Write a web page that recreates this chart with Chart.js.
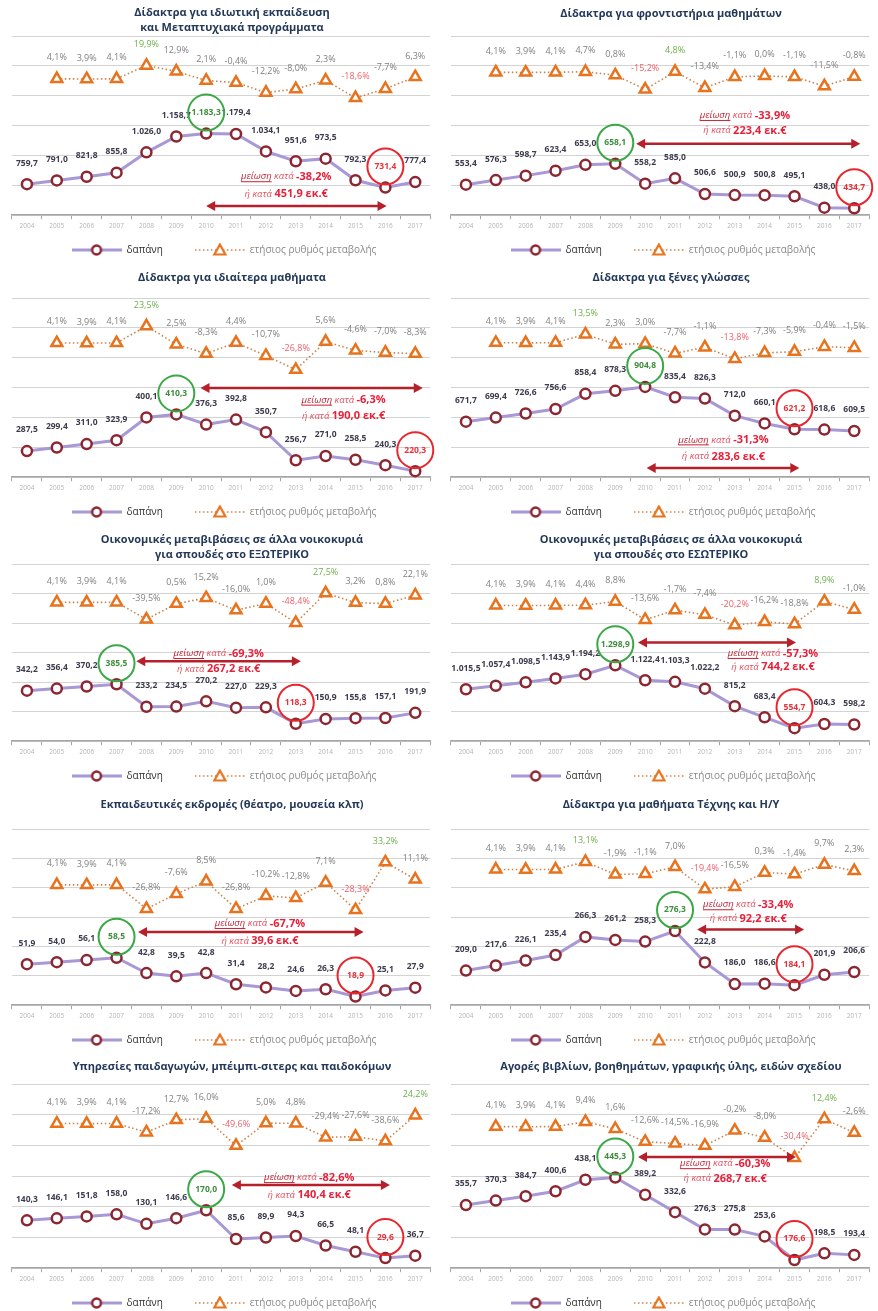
<!DOCTYPE html>
<html>
<head>
<meta charset="utf-8">
<script src="https://cdn.jsdelivr.net/npm/chart.js@4.4.0/dist/chart.umd.min.js"></script>
<style>
  body { margin: 0; background: #fff; }
  #wrap { position: relative; width: 878px; height: 1311px; overflow: hidden; }
  .panel { position: absolute; width: 439px; height: 268px; }
</style>
</head>
<body>
<div id="wrap"></div>
<script>
const years = ["2004", "2005", "2006", "2007", "2008", "2009", "2010", "2011", "2012", "2013", "2014", "2015", "2016", "2017"];

// 1. private education & postgraduate
const privateSpend = [759.7, 791.0, 821.8, 855.8, 1026.0, 1158.7, 1183.3, 1179.4, 1034.1, 951.6, 973.5, 792.3, 731.4, 777.4];
const privateRate = [null, 4.1, 3.9, 4.1, 19.9, 12.9, 2.1, -0.4, -12.2, -8.0, 2.3, -18.6, -7.7, 6.3];
// 2. tutoring schools
const tutorSpend = [553.4, 576.3, 598.7, 623.4, 653.0, 658.1, 558.2, 585.0, 506.6, 500.9, 500.8, 495.1, 438.0, 434.7];
const tutorRate = [null, 4.1, 3.9, 4.1, 4.7, 0.8, -15.2, 4.8, -13.4, -1.1, 0.0, -1.1, -11.5, -0.8];
// 3. private lessons
const lessonSpend = [287.5, 299.4, 311.0, 323.9, 400.1, 410.3, 376.3, 392.8, 350.7, 256.7, 271.0, 258.5, 240.3, 220.3];
const lessonRate = [null, 4.1, 3.9, 4.1, 23.5, 2.5, -8.3, 4.4, -10.7, -26.8, 5.6, -4.6, -7.0, -8.3];
// 4. foreign languages
const langSpend = [671.7, 699.4, 726.6, 756.6, 858.4, 878.3, 904.8, 835.4, 826.3, 712.0, 660.1, 621.2, 618.6, 609.5];
const langRate = [null, 4.1, 3.9, 4.1, 13.5, 2.3, 3.0, -7.7, -1.1, -13.8, -7.3, -5.9, -0.4, -1.5];
// 5. transfers for studies abroad
const abroadSpend = [342.2, 356.4, 370.2, 385.5, 233.2, 234.5, 270.2, 227.0, 229.3, 118.3, 150.9, 155.8, 157.1, 191.9];
const abroadRate = [null, 4.1, 3.9, 4.1, -39.5, 0.5, 15.2, -16.0, 1.0, -48.4, 27.5, 3.2, 0.8, 22.1];
// 6. transfers for studies at home
const homeSpend = [1015.5, 1057.4, 1098.5, 1143.9, 1194.2, 1298.9, 1122.4, 1103.3, 1022.2, 815.2, 683.4, 554.7, 604.3, 598.2];
const homeRate = [null, 4.1, 3.9, 4.1, 4.4, 8.8, -13.6, -1.7, -7.4, -20.2, -16.2, -18.8, 8.9, -1.0];
// 7. school trips
const tripSpend = [51.9, 54.0, 56.1, 58.5, 42.8, 39.5, 42.8, 31.4, 28.2, 24.6, 26.3, 18.9, 25.1, 27.9];
const tripRate = [null, 4.1, 3.9, 4.1, -26.8, -7.6, 8.5, -26.8, -10.2, -12.8, 7.1, -28.3, 33.2, 11.1];
// 8. art & computer lessons
const artSpend = [209.0, 217.6, 226.1, 235.4, 266.3, 261.2, 258.3, 276.3, 222.8, 186.0, 186.6, 184.1, 201.9, 206.6];
const artRate = [null, 4.1, 3.9, 4.1, 13.1, -1.9, -1.1, 7.0, -19.4, -16.5, 0.3, -1.4, 9.7, 2.3];
// 9. childcare
const careSpend = [140.3, 146.1, 151.8, 158.0, 130.1, 146.6, 170.0, 85.6, 89.9, 94.3, 66.5, 48.1, 29.6, 36.7];
const careRate = [null, 4.1, 3.9, 4.1, -17.2, 12.7, 16.0, -49.6, 5.0, 4.8, -29.4, -27.6, -38.6, 24.2];
// 10. books & stationery
const bookSpend = [355.7, 370.3, 384.7, 400.6, 438.1, 445.3, 389.2, 332.6, 276.3, 275.8, 253.6, 176.6, 198.5, 193.4];
const bookRate = [null, 4.1, 3.9, 4.1, 9.4, 1.6, -12.6, -14.5, -16.9, -0.2, -8.0, -30.4, 12.4, -2.6];

const panels = [
  { title: ["Δίδακτρα για ιδιωτική εκπαίδευση", "και Μεταπτυχιακά προγράμματα"], spend: privateSpend, rate: privateRate,
    ymin: 500, ymax: 2000, rmin: -158, rmax: 55, hi: 6, lo: 12, drop: "-38,2%", amount: "451,9",
    arrow: [6.0, 12.04, 577], note: [8.68, 822, 679], tY: 13 },
  { title: ["Δίδακτρα για φροντιστήρια μαθημάτων"], spend: tutorSpend, rate: tutorRate,
    ymin: 400, ymax: 1300, rmin: -157, rmax: 45, hi: 5, lo: 13, drop: "-33,9%", amount: "223,4",
    arrow: [5.7, 13.2, 759], note: [9.34, 901, 824], tY: 14 },
  { title: ["Δίδακτρα για ιδιαίτερα μαθήματα"], spend: lessonSpend, rate: lessonRate,
    ymin: 200, ymax: 800, rmin: -151, rmax: 56, hi: 5, lo: 13, drop: "-6,3%", amount: "190,0",
    arrow: [5.81, 13.25, 499], note: [10.6, 458, 405], tY: 16 },
  { title: ["Δίδακτρα για ξένες γλώσσες"], spend: langSpend, rate: langRate,
    ymin: 300, ymax: 1500, rmin: -146, rmax: 54, hi: 6, lo: 11, drop: "-31,3%", amount: "283,6",
    arrow: [6.05, 11.16, 361], note: [8.62, 550, 437], tY: 16 },
  { title: ["Οικονομικές μεταβιβάσεις σε άλλα νοικοκυριά", "για σπουδές στο ΕΞΩΤΕΡΙΚΟ"], spend: abroadSpend, rate: abroadRate,
    ymin: 0, ymax: 1200, rmin: -351, rmax: 102, hi: 3, lo: 9, drop: "-69,3%", amount: "267,2",
    arrow: [3.66, 9.17, 541], note: [6.42, 594, 490], tY: 14 },
  { title: ["Οικονομικές μεταβιβάσεις σε άλλα νοικοκυριά", "για σπουδές στο ΕΣΩΤΕΡΙΚΟ"], spend: homeSpend, rate: homeRate,
    ymin: 400, ymax: 2500, rmin: -163, rmax: 55, hi: 5, lo: 11, drop: "-57,3%", amount: "744,2",
    arrow: [5.76, 11.05, 1569], note: [10.28, 1440, 1278], tY: 14 },
  { title: ["Εκπαιδευτικές εκδρομές (θέατρο, μουσεία κλπ)"], spend: tripSpend, rate: tripRate,
    ymin: 10, ymax: 190, rmin: -151, rmax: 76, hi: 3, lo: 11, drop: "-67,7%", amount: "39,6",
    arrow: [3.72, 11.27, 84.9], note: [7.8, 93.5, 75.4], tY: 15 },
  { title: ["Δίδακτρα για μαθήματα Τέχνης και Η/Υ"], spend: artSpend, rate: artRate,
    ymin: 150, ymax: 450, rmin: -157, rmax: 52, hi: 7, lo: 11, drop: "-33,4%", amount: "92,2",
    arrow: [7.74, 11.32, 278.8], note: [9.45, 321, 297.8], tY: 15 },
  { title: ["Υπηρεσίες παιδαγωγών, μπέιμπι-σιτερς και παιδοκόμων"], spend: careSpend, rate: careRate,
    ymin: 0, ymax: 540, rmin: -347, rmax: 100, hi: 6, lo: 12, drop: "-82,6%", amount: "140,4",
    arrow: [6.86, 12.15, 243.8], note: [9.45, 265.6, 214], tY: 14 },
  { title: ["Αγορές βιβλίων, βοηθημάτων, γραφικής ύλης, ειδών σχεδίου"], spend: bookSpend, rate: bookRate,
    ymin: 150, ymax: 750, rmin: -152, rmax: 51, hi: 5, lo: 11, drop: "-60,3%", amount: "268,7",
    arrow: [5.76, 11.05, 512], note: [8.68, 490.5, 441.9], tY: 14 }
];

const rowTop = [0, 262, 526, 790, 1053];
const padTop = [36, 36, 38, 39, 31];

const FONT = '"Open Sans", "Noto Sans", sans-serif';
const purple = "#A898D6";
const darkRed = "#8C2630";
const orange = "#E8731E";

const fmtSpend = (v) => {
  const s = v.toFixed(1).split(".");
  return s[0].replace(/\B(?=(\d{3})+(?!\d))/g, ".") + "," + s[1];
};
const fmtRate = (v) => v.toFixed(1).replace(".", ",") + "%";

// little pictures for the legend (line + marker)
function legendImg(kind) {
  const c = document.createElement("canvas");
  c.width = 50; c.height = 14;
  const g = c.getContext("2d");
  if (kind === "spend") {
    g.strokeStyle = purple; g.lineWidth = 3;
    g.beginPath(); g.moveTo(0, 7); g.lineTo(50, 7); g.stroke();
    g.fillStyle = "#fff"; g.strokeStyle = darkRed; g.lineWidth = 2.5;
    g.beginPath(); g.arc(25, 7, 4.4, 0, Math.PI * 2); g.fill(); g.stroke();
  } else {
    g.strokeStyle = "#C9834A"; g.lineWidth = 1.6; g.setLineDash([1.5, 2.5]);
    g.beginPath(); g.moveTo(0, 7); g.lineTo(50, 7); g.stroke();
    g.setLineDash([]);
    g.fillStyle = "#fff"; g.strokeStyle = orange; g.lineWidth = 2.2;
    g.beginPath(); g.moveTo(25, 1.5); g.lineTo(30.5, 11.5); g.lineTo(19.5, 11.5); g.closePath(); g.fill(); g.stroke();
  }
  return c;
}
const spendImg = legendImg("spend");
const rateImg = legendImg("rate");

function drawParts(ctx, parts, cx, y) {
  let total = 0;
  parts.forEach((p) => { ctx.font = p.f; p.w = ctx.measureText(p.t).width; total += p.w; });
  let x = cx - total / 2;
  ctx.textAlign = "left";
  ctx.textBaseline = "middle";
  parts.forEach((p) => {
    ctx.font = p.f; ctx.fillStyle = p.c;
    ctx.fillText(p.t, x, y);
    if (p.u) {
      ctx.strokeStyle = p.c; ctx.lineWidth = 1;
      ctx.beginPath(); ctx.moveTo(x, y + 5); ctx.lineTo(x + p.w, y + 5); ctx.stroke();
    }
    x += p.w;
  });
}

function makeDecor(p) {
  return {
    id: "decor",
    afterDatasetsDraw(chart) {
      const ctx = chart.ctx;
      const xs = chart.scales.x, ys = chart.scales.y;
      ctx.save();
      // title
      ctx.fillStyle = "#24395A";
      ctx.font = "bold 11px " + FONT;
      ctx.textAlign = "center";
      ctx.textBaseline = "middle";
      p.title.forEach((t, k) => ctx.fillText(t, 232, p.tY + k * 15));

      // value labels
      const spendMeta = chart.getDatasetMeta(0);
      const rateMeta = chart.getDatasetMeta(1);
      const rv = p.rate.filter((v) => v !== null);
      const rMax = Math.max(...rv), rMin = Math.min(...rv);
      rateMeta.data.forEach((pt, i) => {
        const v = p.rate[i];
        if (v === null) return;
        ctx.font = "9px " + FONT;
        ctx.fillStyle = v === rMax ? "#6DB04A" : v === rMin ? "#F0606A" : "#808080";
        ctx.fillText(fmtRate(v), pt.x, pt.y - 21);
      });
      spendMeta.data.forEach((pt, i) => {
        ctx.font = "bold 8.5px " + FONT;
        ctx.fillStyle = i === p.hi ? "#3E8E3E" : i === p.lo ? "#E8303A" : "#3C3C4E";
        ctx.fillText(fmtSpend(p.spend[i]), pt.x, pt.y - 21);
      });

      // circles round the highest and lowest values
      [[p.hi, "#39A845"], [p.lo, "#E8262E"]].forEach(([i, col]) => {
        const pt = spendMeta.data[i];
        ctx.strokeStyle = col; ctx.lineWidth = 2;
        ctx.beginPath(); ctx.arc(pt.x, pt.y - 21, 18, 0, Math.PI * 2); ctx.stroke();
      });

      // double arrow
      const x1 = xs.getPixelForValue(p.arrow[0]);
      const x2 = xs.getPixelForValue(p.arrow[1]);
      const ay = ys.getPixelForValue(p.arrow[2]);
      const h = 9, w = 5;
      ctx.strokeStyle = "#B5202A"; ctx.fillStyle = "#B5202A"; ctx.lineWidth = 2.5;
      ctx.beginPath(); ctx.moveTo(x1 + h - 1, ay); ctx.lineTo(x2 - h + 1, ay); ctx.stroke();
      ctx.beginPath(); ctx.moveTo(x1, ay); ctx.lineTo(x1 + h, ay - w); ctx.lineTo(x1 + h, ay + w); ctx.closePath(); ctx.fill();
      ctx.beginPath(); ctx.moveTo(x2, ay); ctx.lineTo(x2 - h, ay - w); ctx.lineTo(x2 - h, ay + w); ctx.closePath(); ctx.fill();

      // decrease notes
      const tx = xs.getPixelForValue(p.note[0]);
      drawParts(ctx, [
        { t: "μείωση", f: "italic 9.5px " + FONT, c: "#C42032", u: true },
        { t: " κατά ", f: "italic 9.5px " + FONT, c: "#E8505F" },
        { t: p.drop, f: "bold 11px " + FONT, c: "#E8213A" }
      ], tx, ys.getPixelForValue(p.note[1]));
      drawParts(ctx, [
        { t: "ή κατά ", f: "italic 9.5px " + FONT, c: "#E8505F" },
        { t: p.amount + " εκ.€", f: "bold 11px " + FONT, c: "#E8213A" }
      ], tx, ys.getPixelForValue(p.note[2]));
      ctx.restore();
    }
  };
}

const wrap = document.getElementById("wrap");

panels.forEach((p, n) => {
  const row = Math.floor(n / 2), col = n % 2;
  const div = document.createElement("div");
  div.className = "panel";
  div.style.left = (col * 439) + "px";
  div.style.top = rowTop[row] + "px";
  const canvas = document.createElement("canvas");
  canvas.width = 439;
  canvas.height = 268;
  div.appendChild(canvas);
  wrap.appendChild(div);

  new Chart(canvas, {
    type: "line",
    data: {
      labels: years,
      datasets: [
        {
          label: "δαπάνη",
          data: p.spend,
          yAxisID: "y",
          borderColor: purple,
          borderWidth: 3,
          pointStyle: "circle",
          pointRadius: 5,
          pointBorderWidth: 2.5,
          pointBorderColor: darkRed,
          pointBackgroundColor: "#fff",
          tension: 0,
          clip: false
        },
        {
          label: "ετήσιος ρυθμός μεταβολής",
          data: p.rate,
          yAxisID: "y1",
          borderColor: "#C9834A",
          borderWidth: 1.6,
          borderDash: [1.5, 2.5],
          pointStyle: "triangle",
          pointRadius: 6.3,
          pointBorderWidth: 2.5,
          pointBorderColor: orange,
          pointBackgroundColor: "#fff",
          tension: 0,
          clip: false
        }
      ]
    },
    options: {
      responsive: false,
      animation: false,
      events: [],
      layout: { padding: { top: padTop[row], left: 12, right: 3, bottom: 3 } },
      scales: {
        x: {
          offset: true,
          grid: { display: true, offset: true, drawOnChartArea: false, drawTicks: true, tickLength: 4, color: "#A6A6A6" },
          border: { color: "#A6A6A6", width: 1.5 },
          ticks: { color: "#B4B4B4", font: { size: 6.5, family: FONT }, padding: 3, maxRotation: 0, autoSkip: false }
        },
        y: {
          min: p.ymin,
          max: p.ymax,
          ticks: { display: false, stepSize: (p.ymax - p.ymin) / 6 },
          grid: { color: "#D3D3D3", lineWidth: 1, drawTicks: false },
          border: { display: false }
        },
        y1: {
          display: false,
          min: p.rmin,
          max: p.rmax
        }
      },
      plugins: {
        title: { display: false },
        tooltip: { enabled: false },
        legend: {
          position: "bottom",
          labels: {
            usePointStyle: true,
            pointStyleWidth: 50,
            boxHeight: 10,
            padding: 12,
            font: { size: 10, family: FONT },
            generateLabels: () => [
              { text: "δαπάνη\u2003\u2003", pointStyle: spendImg, fontColor: "#2E2E2E", datasetIndex: 0, hidden: false, lineWidth: 0 },
              { text: "ετήσιος ρυθμός μεταβολής", pointStyle: rateImg, fontColor: "#8A8A8A", datasetIndex: 1, hidden: false, lineWidth: 0 }
            ]
          }
        }
      }
    },
    plugins: [makeDecor(p)]
  });
});
</script>
</body>
</html>
